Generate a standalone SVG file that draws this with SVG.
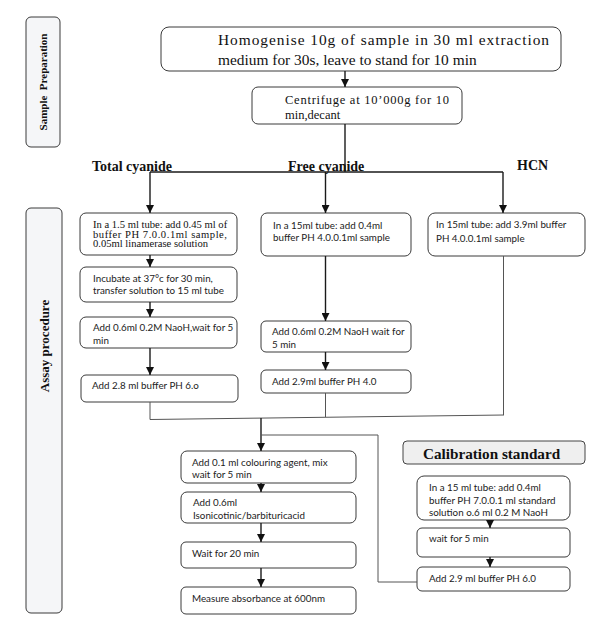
<svg xmlns="http://www.w3.org/2000/svg" width="600" height="629" viewBox="0 0 600 629">
<defs>
<style>
.box{fill:#fff;stroke:#3a3a3a;stroke-width:1}
.side{fill:#f5f6f8;stroke:#3a3a3a;stroke-width:1}
.ser{font-family:"Liberation Serif","Times New Roman",serif;fill:#111}
.sans{font-family:Lato,"Open Sans",sans-serif;fill:#222;font-size:9.8px}
.lbl{font-family:"Liberation Serif","Times New Roman",serif;font-weight:bold;font-size:14px;fill:#111}
.ln{stroke:#1a1a1a;stroke-width:1.4;fill:none}
.thin{stroke:#555;stroke-width:1;fill:none}
</style>
<marker id="ah" markerUnits="userSpaceOnUse" markerWidth="8" markerHeight="9" refX="4" refY="8" orient="auto-start-reverse" viewBox="0 0 8 9">
<path d="M0,0 L8,0 L4,8 Z" fill="#111" transform="rotate(-90 4 4)"/>
</marker>
<marker id="arr" markerUnits="userSpaceOnUse" markerWidth="8" markerHeight="8" refX="8" refY="4" orient="auto" viewBox="0 0 8 8">
<path d="M0,0 L8,4 L0,8 Z" fill="#111"/>
</marker>
</defs>

<g id="sample-preparation">
<rect class="side" x="26" y="17" width="34" height="130" rx="5"/>
<text class="ser" font-weight="bold" font-size="11" text-anchor="middle" transform="translate(47 82) rotate(-90)" xml:space="preserve">Sample  Preparation</text>
</g>

<g id="assay-procedure">
<rect class="side" x="26" y="208" width="36" height="405" rx="5"/>
<text class="ser" font-weight="bold" font-size="13" text-anchor="middle" transform="translate(48.5 346) rotate(-90)">Assay procedure</text>
</g>

<g id="homogenise">
<rect class="box" x="161" y="27" width="400" height="44" rx="8"/>
<text class="ser" font-size="15.4" x="218" y="45" textLength="331" lengthAdjust="spacing">Homogenise 10g of sample in 30 ml extraction</text>
<text class="ser" font-size="15.4" x="218" y="65">medium for 30s, leave to stand for 10 min</text>
</g>

<g id="centrifuge">
<rect class="box" x="252" y="87" width="210" height="37" rx="6"/>
<text class="ser" font-size="12.5" x="285" y="104" textLength="164" lengthAdjust="spacing">Centrifuge at 10’000g for 10</text>
<text class="ser" font-size="12.5" x="285" y="119">min,decant</text>
</g>

<g id="labels">
<text class="lbl" x="92" y="171">Total cyanide</text>
<text class="lbl" x="288" y="171">Free cyanide</text>
<text class="lbl" x="517" y="170">HCN</text>
</g>

<g id="total-1">
<rect class="box" x="80" y="213" width="157" height="42" rx="6"/>
<text class="ser" font-size="10.6" x="93" y="228">In a 1.5 ml tube: add 0.45 ml of</text>
<text class="ser" font-size="10.6" x="93" y="237.5" textLength="134" lengthAdjust="spacing">buffer PH 7.0.0.1ml sample,</text>
<text class="ser" font-size="10.6" x="93" y="247">0.05ml linamerase solution</text>
</g>
<g id="total-2">
<rect class="box" x="80" y="267" width="157" height="35" rx="6"/>
<text class="sans" x="93" y="282">Incubate at 37°c for 30 min,</text>
<text class="sans" x="93" y="294">transfer solution to 15 ml tube</text>
</g>
<g id="total-3">
<rect class="box" x="80" y="317" width="157" height="31" rx="6"/>
<text class="sans" x="93" y="331">Add 0.6ml 0.2M NaoH,wait for 5</text>
<text class="sans" x="93" y="344">min</text>
</g>
<g id="total-4">
<rect class="box" x="81" y="375" width="157" height="27" rx="5"/>
<text class="sans" x="92" y="389">Add 2.8 ml buffer PH 6.o</text>
</g>

<g id="free-1">
<rect class="box" x="261" y="213" width="150" height="43" rx="6"/>
<text class="sans" x="273" y="228.5">In a 15ml tube: add 0.4ml</text>
<text class="sans" x="273" y="241">buffer PH 4.0.0.1ml sample</text>
</g>
<g id="free-2">
<rect class="box" x="261" y="321" width="150" height="31" rx="5"/>
<text class="sans" x="272" y="335">Add 0.6ml 0.2M NaoH wait for</text>
<text class="sans" x="272" y="348">5 min</text>
</g>
<g id="free-3">
<rect class="box" x="261" y="370" width="150" height="23" rx="5"/>
<text class="sans" x="272" y="384.5">Add 2.9ml buffer PH 4.0</text>
</g>

<g id="hcn-1">
<rect class="box" x="428" y="213" width="157" height="43" rx="7"/>
<text class="sans" x="436" y="228">In 15ml tube: add 3.9ml buffer</text>
<text class="sans" x="436" y="241.5">PH 4.0.0.1ml sample</text>
</g>

<g id="colouring">
<rect class="box" x="181" y="451" width="175" height="32" rx="6"/>
<text class="sans" x="192" y="465.5">Add 0.1 ml colouring agent, mix</text>
<text class="sans" x="192" y="478">wait for 5 min</text>
</g>
<g id="isonicotinic">
<rect class="box" x="181" y="492" width="175" height="31" rx="6"/>
<text class="sans" x="193" y="505.5">Add 0.6ml</text>
<text class="sans" x="193" y="518.5">Isonicotinic/barbituricacid</text>
</g>
<g id="wait-20">
<rect class="box" x="181" y="542" width="175" height="26" rx="5"/>
<text class="sans" x="192" y="557">Wait for 20 min</text>
</g>
<g id="measure">
<rect class="box" x="181" y="587" width="175" height="27" rx="5"/>
<text class="sans" x="192" y="602">Measure absorbance at 600nm</text>
</g>

<g id="calibration-standard">
<rect x="403" y="441" width="182" height="23" rx="4" fill="#efefef" stroke="#444" stroke-width="1"/>
<text class="ser" font-weight="bold" font-size="15.2" x="423" y="459">Calibration standard</text>
</g>
<g id="calib-1">
<rect class="box" x="417" y="476" width="153" height="44" rx="7"/>
<text class="sans" x="429" y="491">In a 15 ml tube: add 0.4ml</text>
<text class="sans" x="429" y="503.5">buffer PH 7.0.0.1 ml standard</text>
<text class="sans" x="429" y="516">solution o.6 ml 0.2 M NaoH</text>
</g>
<g id="calib-2">
<rect class="box" x="417" y="528" width="153" height="29" rx="5"/>
<text class="sans" x="429" y="541.5">wait for 5 min</text>
</g>
<g id="calib-3">
<rect class="box" x="417" y="567" width="153" height="24" rx="5"/>
<text class="sans" x="429" y="582">Add 2.9 ml buffer PH 6.0</text>
</g>

<g id="connectors">
<path class="ln" d="M345 71 V87" marker-end="url(#arr)"/>
<path class="ln" d="M345 124 V172"/>
<path class="ln" d="M150 172 H503"/>
<path class="ln" d="M150 172 V213" marker-end="url(#arr)"/>
<path class="ln" d="M325.5 172 V213" marker-end="url(#arr)"/>
<path class="ln" d="M503 172 V213" marker-end="url(#arr)"/>
<path class="ln" d="M150 255 V267" marker-end="url(#arr)"/>
<path class="ln" d="M150 302 V317" marker-end="url(#arr)"/>
<path class="ln" d="M150 348 V375" marker-end="url(#arr)"/>
<path class="ln" d="M325.5 256 V321" marker-end="url(#arr)"/>
<path class="ln" d="M325.5 352 V370" marker-end="url(#arr)"/>
<path class="thin" d="M150 402 V419.5 L504 415"/>
<path class="thin" d="M325.5 393 V417"/>
<path class="thin" d="M503.5 256 V415"/>
<path class="ln" d="M261 418 V451" marker-end="url(#arr)"/>
<path class="thin" d="M261 435 H378 V582 H417"/>
<path class="ln" d="M261 483 V492" marker-end="url(#arr)"/>
<path class="ln" d="M261 523 V542" marker-end="url(#arr)"/>
<path class="ln" d="M261 568 V587" marker-end="url(#arr)"/>
<path class="ln" d="M490 520 V528" marker-end="url(#arr)"/>
<path class="ln" d="M490 557 V567" marker-end="url(#arr)"/>
</g>
</svg>
